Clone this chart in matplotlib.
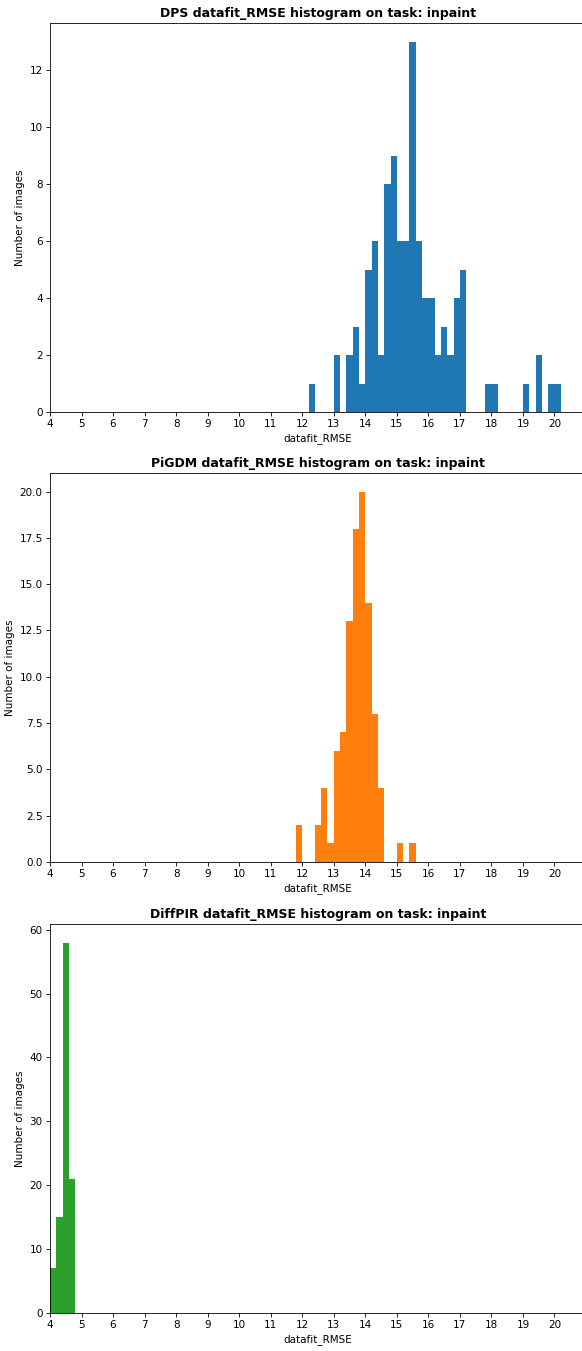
import numpy as np
import matplotlib
matplotlib.use("Agg")
import matplotlib.pyplot as plt

# histogram bins: width 0.2 starting at 4.0
bin_start = 4.0
bin_width = 0.2
n_bins = 84

# counts per bin, keyed by the left edge of the bin
dps_left = [12.2, 13.0, 13.4, 13.6, 13.8, 14.0, 14.2, 14.4, 14.6, 14.8, 15.0, 15.2,
            15.4, 15.6, 15.8, 16.0, 16.2, 16.4, 16.6, 16.8, 17.0, 17.8, 18.0, 19.0,
            19.4, 19.8, 20.0]
dps_counts = [1, 2, 2, 3, 1, 5, 6, 2, 8, 9, 6, 6,
              13, 6, 4, 4, 2, 3, 2, 4, 5, 1, 1, 1,
              2, 1, 1]

pigdm_left = [11.8, 12.4, 12.6, 12.8, 13.0, 13.2, 13.4, 13.6, 13.8, 14.0, 14.2, 14.4,
              15.0, 15.4]
pigdm_counts = [2, 2, 4, 1, 6, 7, 13, 18, 20, 14, 8, 4, 1, 1]

diffpir_left = [4.0, 4.2, 4.4, 4.6]
diffpir_counts = [7, 15, 58, 21]

methods = ["DPS", "PiGDM", "DiffPIR"]
lefts = [dps_left, pigdm_left, diffpir_left]
counts = [dps_counts, pigdm_counts, diffpir_counts]
colors = ["tab:blue", "tab:orange", "tab:green"]

edges = bin_start + bin_width * np.arange(n_bins + 1)

W, H = 582, 1351
DPI = 75
fig = plt.figure(figsize=(W / DPI, H / DPI), dpi=DPI)

# panel pixel boxes (top, bottom) in the image
boxes = [(23, 412), (473, 862), (924, 1313)]
left_px, right_px = 50, 586

for name, lx, cx, col, (top, bot) in zip(methods, lefts, counts, colors, boxes):
    ax = fig.add_axes([left_px / W, (H - bot) / H,
                       (right_px - left_px) / W, (bot - top) / H])
    centers = np.array(lx) + bin_width / 2
    ax.hist(centers, bins=edges, weights=cx, color=col)
    ax.set_xlim(4, 21)
    ax.set_xticks(range(4, 21))
    ax.set_title(f"{name} datafit_RMSE histogram on task: inpaint", fontweight="bold")
    ax.set_xlabel("datafit_RMSE")
    ax.set_ylabel("Number of images")

plt.savefig("out.png", dpi=DPI)
